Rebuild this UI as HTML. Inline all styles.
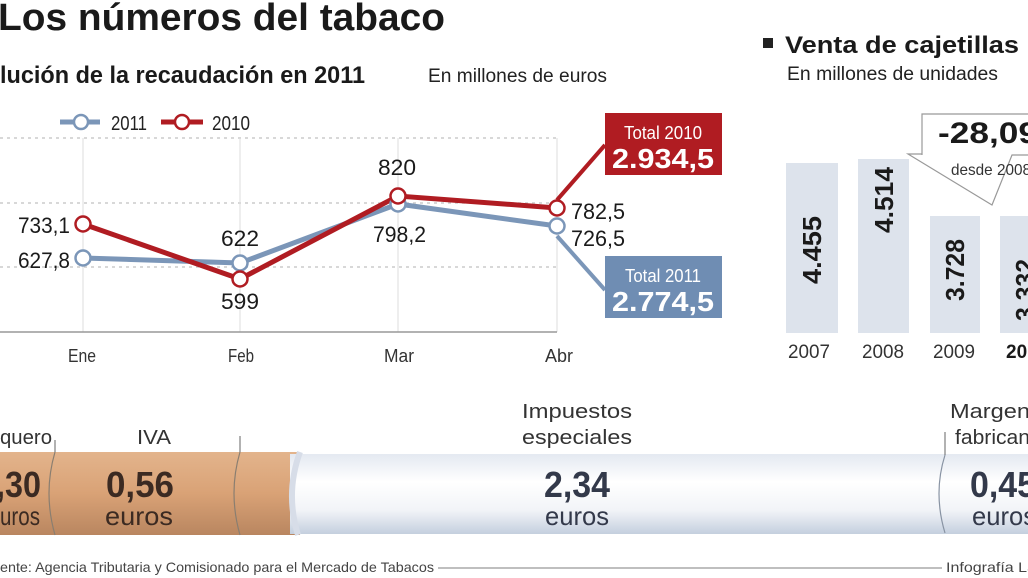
<!DOCTYPE html>
<html><head><meta charset="utf-8"><style>html,body{margin:0;padding:0;background:#fff;overflow:hidden}svg{display:block}text{font-family:"Liberation Sans",sans-serif}</style></head><body>
<svg width="1028" height="578" viewBox="0 0 1028 578" xmlns="http://www.w3.org/2000/svg">
<defs>
<linearGradient id="filt" x1="0" y1="0" x2="0" y2="1"><stop offset="0" stop-color="#e3b48c"/><stop offset="0.5" stop-color="#d9a276"/><stop offset="1" stop-color="#b98660"/></linearGradient>
<linearGradient id="pap" x1="0" y1="0" x2="0" y2="1"><stop offset="0" stop-color="#e4e9f1"/><stop offset="0.35" stop-color="#ffffff"/><stop offset="0.7" stop-color="#f2f4f8"/><stop offset="1" stop-color="#c4cfde"/></linearGradient>
</defs>
<!-- titles -->
<text x="-2" y="30" font-size="38" font-weight="bold" fill="#1a1a1a" textLength="447" lengthAdjust="spacingAndGlyphs">Los números del tabaco</text>
<text x="0" y="83" font-size="24" font-weight="bold" fill="#1a1a1a" textLength="365" lengthAdjust="spacingAndGlyphs">lución de la recaudación en 2011</text>
<text x="428" y="82" font-size="19" fill="#222" textLength="179" lengthAdjust="spacingAndGlyphs">En millones de euros</text>
<rect x="763" y="38" width="10" height="10" fill="#222"/>
<text x="785" y="53" font-size="24" font-weight="bold" fill="#1a1a1a" textLength="234" lengthAdjust="spacingAndGlyphs">Venta de cajetillas</text>
<text x="787" y="80" font-size="19" fill="#222" textLength="211" lengthAdjust="spacingAndGlyphs">En millones de unidades</text>
<!-- legend -->
<line x1="60" y1="122" x2="100" y2="122" stroke="#7b96b8" stroke-width="5"/><circle cx="81" cy="122" r="7" fill="#fff" stroke="#7b96b8" stroke-width="2.5"/>
<text x="111" y="130" font-size="20" fill="#222" textLength="36" lengthAdjust="spacingAndGlyphs">2011</text>
<line x1="161" y1="122" x2="203" y2="122" stroke="#b01c22" stroke-width="5"/><circle cx="182" cy="122" r="7" fill="#fff" stroke="#b01c22" stroke-width="2.5"/>
<text x="212" y="130" font-size="20" fill="#222" textLength="38" lengthAdjust="spacingAndGlyphs">2010</text>
<!-- grid -->
<g stroke="#ccc" stroke-width="1.5" stroke-dasharray="3,4"><line x1="0" y1="138" x2="556" y2="138"/><line x1="0" y1="203" x2="556" y2="203"/><line x1="0" y1="267" x2="556" y2="267"/></g>
<g stroke="#ddd" stroke-width="1"><line x1="83" y1="138" x2="83" y2="332"/><line x1="240" y1="138" x2="240" y2="332"/><line x1="398" y1="138" x2="398" y2="332"/><line x1="557" y1="138" x2="557" y2="332"/></g>
<line x1="0" y1="332" x2="557" y2="332" stroke="#999" stroke-width="1.5"/>
<!-- connectors -->
<line x1="557" y1="200" x2="605" y2="145" stroke="#b01c22" stroke-width="4"/>
<line x1="557" y1="236" x2="605" y2="290" stroke="#7b96b8" stroke-width="4"/>
<!-- series -->
<polyline points="83,258 240,263 398,204 557,226" fill="none" stroke="#7b96b8" stroke-width="5"/>
<polyline points="83,224 240,279 398,196 557,208" fill="none" stroke="#b01c22" stroke-width="5"/>
<g fill="#fff" stroke-width="2.5"><circle cx="83" cy="258" r="7.5" stroke="#7b96b8"/><circle cx="240" cy="263" r="7.5" stroke="#7b96b8"/><circle cx="398" cy="204" r="7.5" stroke="#7b96b8"/><circle cx="557" cy="226" r="7.5" stroke="#7b96b8"/>
<circle cx="83" cy="224" r="7.5" stroke="#b01c22"/><circle cx="240" cy="279" r="7.5" stroke="#b01c22"/><circle cx="398" cy="196" r="7.5" stroke="#b01c22"/><circle cx="557" cy="208" r="7.5" stroke="#b01c22"/></g>
<g font-size="22" fill="#1a1a1a">
<text x="18" y="233" textLength="52" lengthAdjust="spacingAndGlyphs">733,1</text>
<text x="18" y="268" textLength="52" lengthAdjust="spacingAndGlyphs">627,8</text>
<text x="221" y="246" textLength="38" lengthAdjust="spacingAndGlyphs">622</text>
<text x="221" y="309" textLength="38" lengthAdjust="spacingAndGlyphs">599</text>
<text x="378" y="175" textLength="38" lengthAdjust="spacingAndGlyphs">820</text>
<text x="373" y="242" textLength="53" lengthAdjust="spacingAndGlyphs">798,2</text>
<text x="571" y="219" textLength="54" lengthAdjust="spacingAndGlyphs">782,5</text>
<text x="571" y="246" textLength="54" lengthAdjust="spacingAndGlyphs">726,5</text>
</g>
<g font-size="18" fill="#333"><text x="68" y="362" textLength="28" lengthAdjust="spacingAndGlyphs">Ene</text><text x="228" y="362" textLength="26" lengthAdjust="spacingAndGlyphs">Feb</text><text x="384" y="362" textLength="30" lengthAdjust="spacingAndGlyphs">Mar</text><text x="545" y="362" textLength="28" lengthAdjust="spacingAndGlyphs">Abr</text></g>
<!-- totals -->
<rect x="605" y="113" width="117" height="62" fill="#b01c22"/>
<text x="663" y="139" font-size="18" fill="#fff" text-anchor="middle" textLength="78" lengthAdjust="spacingAndGlyphs">Total 2010</text>
<text x="663" y="168" font-size="28" font-weight="bold" fill="#fff" text-anchor="middle" textLength="102" lengthAdjust="spacingAndGlyphs">2.934,5</text>
<rect x="605" y="256" width="117" height="62" fill="#6f8db3"/>
<text x="663" y="282" font-size="18" fill="#fff" text-anchor="middle" textLength="76" lengthAdjust="spacingAndGlyphs">Total 2011</text>
<text x="663" y="311" font-size="28" font-weight="bold" fill="#fff" text-anchor="middle" textLength="102" lengthAdjust="spacingAndGlyphs">2.774,5</text>
<!-- bars -->
<g fill="#dde3ec"><rect x="786" y="163" width="52" height="170"/><rect x="858" y="159" width="51" height="174"/><rect x="930" y="216" width="50" height="117"/><rect x="1000" y="216" width="40" height="117"/></g>
<g font-size="26" font-weight="bold" fill="#1a1a1a">
<text transform="translate(821,250) rotate(-90)" text-anchor="middle" textLength="68" lengthAdjust="spacingAndGlyphs">4.455</text>
<text transform="translate(893,200) rotate(-90)" text-anchor="middle" textLength="66" lengthAdjust="spacingAndGlyphs">4.514</text>
<text transform="translate(964,270) rotate(-90)" text-anchor="middle" textLength="62" lengthAdjust="spacingAndGlyphs">3.728</text>
<text transform="translate(1034,290) rotate(-90)" text-anchor="middle" textLength="62" lengthAdjust="spacingAndGlyphs">3.332</text>
</g>
<g font-size="19" fill="#333"><text x="788" y="358" textLength="42" lengthAdjust="spacingAndGlyphs">2007</text><text x="862" y="358" textLength="42" lengthAdjust="spacingAndGlyphs">2008</text><text x="933" y="358" textLength="42" lengthAdjust="spacingAndGlyphs">2009</text><text x="1006" y="358" font-weight="bold" fill="#1a1a1a">20</text></g>
<!-- callout -->
<path d="M922,155 L922,114 L1030,114 M1030,155 L1012,155 L992,205 L908,154 L922,154" fill="#fff" stroke="#999" stroke-width="1.2"/>
<rect x="923" y="115" width="110" height="39" fill="#fff"/>
<text x="938" y="143" font-size="30" font-weight="bold" fill="#1a1a1a" textLength="100" lengthAdjust="spacingAndGlyphs">-28,09</text>
<text x="951" y="175" font-size="16" fill="#333" textLength="80" lengthAdjust="spacingAndGlyphs">desde 2008</text>
<!-- cigarette -->
<rect x="0" y="452" width="300" height="83" fill="url(#filt)"/>
<rect x="290" y="454" width="738" height="80" fill="url(#pap)"/>
<path d="M300,452 Q285,493 298,535" stroke="#d7dde8" stroke-width="6" fill="none"/>
<g stroke="#8a7e70" stroke-width="1.2" fill="none"><path d="M55,452 Q43,493 55,535"/><path d="M240,452 Q228,493 240,535"/><path d="M945,455 Q933,493 945,533" stroke="#8893a3"/></g>
<g stroke="#666" stroke-width="1"><line x1="55" y1="440" x2="55" y2="452"/><line x1="240" y1="436" x2="240" y2="452"/><line x1="945" y1="432" x2="945" y2="455"/></g>
<g font-size="20" fill="#333"><text x="0" y="444" textLength="52" lengthAdjust="spacingAndGlyphs">quero</text><text x="137" y="444" textLength="34" lengthAdjust="spacingAndGlyphs">IVA</text>
<text x="577" y="418" text-anchor="middle" textLength="110" lengthAdjust="spacingAndGlyphs">Impuestos</text><text x="577" y="444" text-anchor="middle" textLength="110" lengthAdjust="spacingAndGlyphs">especiales</text>
<text x="950" y="418" textLength="80" lengthAdjust="spacingAndGlyphs">Margen</text><text x="955" y="444" textLength="75" lengthAdjust="spacingAndGlyphs">fabrican</text></g>
<g font-weight="bold" font-size="36" fill="#3b2a22"><text x="-4" y="497" textLength="45" lengthAdjust="spacingAndGlyphs">,30</text><text x="106" y="497" textLength="68" lengthAdjust="spacingAndGlyphs">0,56</text></g>
<g font-size="26" fill="#3b2a22"><text x="0" y="525" textLength="40" lengthAdjust="spacingAndGlyphs">uros</text><text x="105" y="525" textLength="68" lengthAdjust="spacingAndGlyphs">euros</text></g>
<text x="544" y="497" font-weight="bold" font-size="36" fill="#33394a" textLength="66" lengthAdjust="spacingAndGlyphs">2,34</text>
<text x="545" y="525" font-size="26" fill="#33394a" textLength="64" lengthAdjust="spacingAndGlyphs">euros</text>
<text x="970" y="497" font-weight="bold" font-size="36" fill="#33394a" textLength="66" lengthAdjust="spacingAndGlyphs">0,45</text>
<text x="972" y="525" font-size="26" fill="#33394a" textLength="64" lengthAdjust="spacingAndGlyphs">euros</text>
<!-- footer -->
<text x="0" y="572" font-size="14" fill="#444" textLength="434" lengthAdjust="spacingAndGlyphs">ente: Agencia Tributaria y Comisionado para el Mercado de Tabacos</text>
<line x1="438" y1="568" x2="942" y2="568" stroke="#999" stroke-width="1.2"/>
<text x="946" y="572" font-size="14" fill="#444" textLength="90" lengthAdjust="spacingAndGlyphs">Infografía La</text>
</svg>
</body></html>
